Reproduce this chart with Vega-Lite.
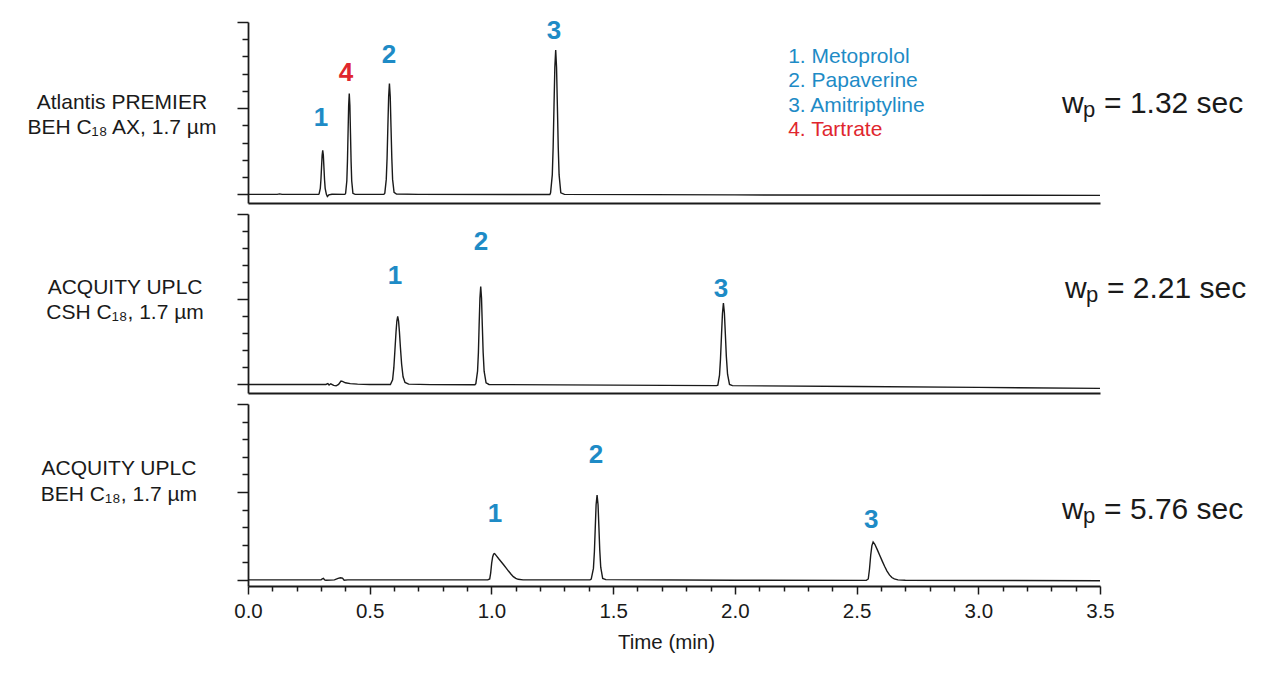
{
  "$schema": "https://vega.github.io/schema/vega-lite/v6.json",
  "background": "white",
  "padding": {"left": 26, "top": 18, "right": 0, "bottom": 0},
  "spacing": 11,
  "bounds": "flush",
  "config": {
    "font": "Liberation Sans",
    "view": {"stroke": null},
    "axis": {"domainColor": "#1a1a1a", "domainWidth": 1.8, "tickColor": "#1a1a1a", "tickWidth": 1.5, "grid": false}
  },
  "datasets": {
    "trace": [
      {"p":1,"t":0,"s":0},{"p":1,"t":0.12,"s":0},{"p":1,"t":0.13,"s":0.03},{"p":1,"t":0.14,"s":0},{"p":1,"t":0.29,"s":0},{"p":1,"t":0.292,"s":0.03},{"p":1,"t":0.297,"s":0.35},{"p":1,"t":0.2995,"s":0.83},{"p":1,"t":0.302,"s":1.55},{"p":1,"t":0.3045,"s":2.26},{"p":1,"t":0.307,"s":2.56},{"p":1,"t":0.3095,"s":2.26},{"p":1,"t":0.312,"s":1.55},{"p":1,"t":0.3145,"s":0.83},{"p":1,"t":0.317,"s":0.35},{"p":1,"t":0.322,"s":0.0},{"p":1,"t":0.326,"s":-0.12},{"p":1,"t":0.332,"s":-0.03},{"p":1,"t":0.345,"s":0.01},{"p":1,"t":0.398,"s":0},{"p":1,"t":0.401,"s":0.06},{"p":1,"t":0.406,"s":0.79},{"p":1,"t":0.4085,"s":1.9},{"p":1,"t":0.411,"s":3.55},{"p":1,"t":0.4135,"s":5.16},{"p":1,"t":0.416,"s":5.85},{"p":1,"t":0.4185,"s":5.16},{"p":1,"t":0.421,"s":3.55},{"p":1,"t":0.4235,"s":1.9},{"p":1,"t":0.426,"s":0.79},{"p":1,"t":0.431,"s":0.06},{"p":1,"t":0.44,"s":0},{"p":1,"t":0.558,"s":0},{"p":1,"t":0.562,"s":0.07},{"p":1,"t":0.568,"s":0.87},{"p":1,"t":0.5713,"s":2.1},{"p":1,"t":0.5745,"s":3.9},{"p":1,"t":0.5778,"s":5.67},{"p":1,"t":0.581,"s":6.43},{"p":1,"t":0.5843,"s":5.67},{"p":1,"t":0.5875,"s":3.9},{"p":1,"t":0.5908,"s":2.1},{"p":1,"t":0.594,"s":0.87},{"p":1,"t":0.6,"s":0.12},{"p":1,"t":0.61,"s":0.02},{"p":1,"t":0.7,"s":0},{"p":1,"t":1.24,"s":-0.01},{"p":1,"t":1.243,"s":0.09},{"p":1,"t":1.25,"s":1.13},{"p":1,"t":1.2535,"s":2.72},{"p":1,"t":1.257,"s":5.08},{"p":1,"t":1.2605,"s":7.38},{"p":1,"t":1.264,"s":8.37},{"p":1,"t":1.2675,"s":7.38},{"p":1,"t":1.271,"s":5.08},{"p":1,"t":1.2745,"s":2.72},{"p":1,"t":1.278,"s":1.13},{"p":1,"t":1.285,"s":0.09},{"p":1,"t":1.3,"s":0.0},{"p":1,"t":2.0,"s":-0.03},{"p":1,"t":3.5,"s":-0.06},
      {"p":2,"t":0,"s":0},{"p":2,"t":0.32,"s":0},{"p":2,"t":0.328,"s":0.05},{"p":2,"t":0.333,"s":-0.03},{"p":2,"t":0.34,"s":0.04},{"p":2,"t":0.352,"s":-0.05},{"p":2,"t":0.362,"s":-0.08},{"p":2,"t":0.372,"s":0.0},{"p":2,"t":0.382,"s":0.2},{"p":2,"t":0.388,"s":0.18},{"p":2,"t":0.4,"s":0.1},{"p":2,"t":0.42,"s":0.05},{"p":2,"t":0.45,"s":0.02},{"p":2,"t":0.5,"s":0},{"p":2,"t":0.585,"s":0},{"p":2,"t":0.594,"s":0.28},{"p":2,"t":0.599,"s":0.97},{"p":2,"t":0.6035,"s":1.99},{"p":2,"t":0.608,"s":3.06},{"p":2,"t":0.6115,"s":3.72},{"p":2,"t":0.615,"s":3.99},{"p":2,"t":0.6185,"s":3.72},{"p":2,"t":0.622,"s":3.1},{"p":2,"t":0.626,"s":2.2},{"p":2,"t":0.631,"s":1.2},{"p":2,"t":0.637,"s":0.45},{"p":2,"t":0.645,"s":0.12},{"p":2,"t":0.66,"s":0.02},{"p":2,"t":0.75,"s":-0.01},{"p":2,"t":0.932,"s":-0.02},{"p":2,"t":0.936,"s":0.05},{"p":2,"t":0.943,"s":0.78},{"p":2,"t":0.9465,"s":1.87},{"p":2,"t":0.9495,"s":3.49},{"p":2,"t":0.9528,"s":5.07},{"p":2,"t":0.956,"s":5.75},{"p":2,"t":0.9593,"s":5.07},{"p":2,"t":0.9625,"s":3.49},{"p":2,"t":0.966,"s":1.87},{"p":2,"t":0.97,"s":0.78},{"p":2,"t":0.978,"s":0.1},{"p":2,"t":0.99,"s":0.0},{"p":2,"t":1.5,"s":-0.04},{"p":2,"t":1.925,"s":-0.07},{"p":2,"t":1.93,"s":-0.04},{"p":2,"t":1.937,"s":0.55},{"p":2,"t":1.941,"s":1.5},{"p":2,"t":1.945,"s":2.85},{"p":2,"t":1.949,"s":4.15},{"p":2,"t":1.953,"s":4.77},{"p":2,"t":1.957,"s":4.2},{"p":2,"t":1.961,"s":2.95},{"p":2,"t":1.965,"s":1.65},{"p":2,"t":1.97,"s":0.6},{"p":2,"t":1.978,"s":0.0},{"p":2,"t":1.99,"s":-0.07},{"p":2,"t":2.5,"s":-0.12},{"p":2,"t":3.0,"s":-0.17},{"p":2,"t":3.5,"s":-0.23},
      {"p":3,"t":0,"s":0},{"p":3,"t":0.3,"s":0},{"p":3,"t":0.305,"s":0.05},{"p":3,"t":0.31,"s":0.08},{"p":3,"t":0.315,"s":0.0},{"p":3,"t":0.32,"s":-0.02},{"p":3,"t":0.355,"s":0.0},{"p":3,"t":0.37,"s":0.08},{"p":3,"t":0.38,"s":0.12},{"p":3,"t":0.388,"s":0.1},{"p":3,"t":0.395,"s":-0.02},{"p":3,"t":0.41,"s":0},{"p":3,"t":0.985,"s":0},{"p":3,"t":0.993,"s":0.05},{"p":3,"t":0.997,"s":0.4},{"p":3,"t":1.001,"s":0.95},{"p":3,"t":1.005,"s":1.3},{"p":3,"t":1.009,"s":1.47},{"p":3,"t":1.013,"s":1.49},{"p":3,"t":1.02,"s":1.38},{"p":3,"t":1.03,"s":1.2},{"p":3,"t":1.04,"s":1.03},{"p":3,"t":1.05,"s":0.86},{"p":3,"t":1.06,"s":0.68},{"p":3,"t":1.07,"s":0.5},{"p":3,"t":1.08,"s":0.33},{"p":3,"t":1.09,"s":0.18},{"p":3,"t":1.1,"s":0.08},{"p":3,"t":1.11,"s":0.03},{"p":3,"t":1.13,"s":0},{"p":3,"t":1.405,"s":0},{"p":3,"t":1.41,"s":0.04},{"p":3,"t":1.419,"s":0.65},{"p":3,"t":1.423,"s":1.6},{"p":3,"t":1.4265,"s":2.95},{"p":3,"t":1.43,"s":4.27},{"p":3,"t":1.434,"s":4.82},{"p":3,"t":1.438,"s":4.27},{"p":3,"t":1.4415,"s":3.0},{"p":3,"t":1.445,"s":1.7},{"p":3,"t":1.449,"s":0.72},{"p":3,"t":1.457,"s":0.08},{"p":3,"t":1.47,"s":0.01},{"p":3,"t":2.0,"s":-0.02},{"p":3,"t":2.54,"s":-0.03},{"p":3,"t":2.548,"s":0.05},{"p":3,"t":2.553,"s":0.6},{"p":3,"t":2.558,"s":1.4},{"p":3,"t":2.563,"s":1.95},{"p":3,"t":2.568,"s":2.15},{"p":3,"t":2.575,"s":2.02},{"p":3,"t":2.585,"s":1.72},{"p":3,"t":2.595,"s":1.4},{"p":3,"t":2.605,"s":1.08},{"p":3,"t":2.615,"s":0.77},{"p":3,"t":2.625,"s":0.5},{"p":3,"t":2.635,"s":0.28},{"p":3,"t":2.645,"s":0.13},{"p":3,"t":2.655,"s":0.05},{"p":3,"t":2.67,"s":0.0},{"p":3,"t":2.7,"s":-0.02},{"p":3,"t":3.5,"s":-0.05}
    ],
    "peaks": [
      {"p":1,"k":1,"t":0.30,"s":4.41},{"p":1,"k":4,"t":0.403,"s":7.02},{"p":1,"k":2,"t":0.579,"s":8.06},{"p":1,"k":3,"t":1.257,"s":9.45},
      {"p":2,"k":1,"t":0.604,"s":6.38},{"p":2,"k":2,"t":0.957,"s":8.36},{"p":2,"k":3,"t":1.943,"s":5.62},
      {"p":3,"k":1,"t":1.015,"s":3.77},{"p":3,"k":2,"t":1.43,"s":7.09},{"p":3,"k":3,"t":2.56,"s":3.43}
    ],
    "names": [
      {"p":1,"t":-0.518,"s":5.28,"txt":"Atlantis PREMIER"},{"p":1,"t":-0.518,"s":3.83,"txt":"BEH C₁₈ AX, 1.7 µm"},
      {"p":2,"t":-0.505,"s":5.68,"txt":"ACQUITY UPLC"},{"p":2,"t":-0.505,"s":4.22,"txt":"CSH C₁₈, 1.7 µm"},
      {"p":3,"t":-0.53,"s":6.29,"txt":"ACQUITY UPLC"},{"p":3,"t":-0.53,"s":4.8,"txt":"BEH C₁₈, 1.7 µm"}
    ],
    "wp": [
      {"p":1,"t":3.344,"s":4.70,"val":"= 1.32 sec"},
      {"p":2,"t":3.356,"s":5.09,"val":"= 2.21 sec"},
      {"p":3,"t":3.344,"s":3.46,"val":"= 5.76 sec"}
    ],
    "legend": [
      {"k":1,"t":2.219,"s":7.95,"txt":"1. Metoprolol"},
      {"k":2,"t":2.219,"s":6.56,"txt":"2. Papaverine"},
      {"k":3,"t":2.219,"s":5.10,"txt":"3. Amitriptyline"},
      {"k":4,"t":2.219,"s":3.71,"txt":"4. Tartrate"}
    ]
  },
  "vconcat": [
    {
      "width": 852, "height": 181,
      "encoding": {
        "x": {"field":"t","type":"quantitative","scale":{"domain":[0,3.5],"nice":false,"zero":false},"axis":{"ticks":false,"labels":false,"title":null}},
        "y": {"field":"s","type":"quantitative","scale":{"domain":[-0.5,10],"nice":false,"zero":false},"axis":{"values":[0,1,2,3,4,5,6,7,8,9,10],"labels":false,"title":null,"tickSize":{"condition":{"test":"datum.value % 5 === 0","value":11},"value":6}}}
      },
      "layer": [
        {"data":{"name":"trace"},"transform":[{"filter":"datum.p === 1"}],"mark":{"type":"line","color":"#1a1a1a","strokeWidth":1.4}},
        {"data":{"name":"peaks"},"transform":[{"filter":"datum.p === 1"}],"mark":{"type":"text","fontSize":26,"fontWeight":"bold","baseline":"middle","align":"center"},"encoding":{"text":{"field":"k","type":"nominal"},"color":{"condition":{"test":"datum.k === 4","value":"#E0262E"},"value":"#1E8BC6"}}},
        {"data":{"name":"legend"},"mark":{"type":"text","fontSize":21,"baseline":"middle","align":"left"},"encoding":{"text":{"field":"txt","type":"nominal"},"color":{"condition":{"test":"datum.k === 4","value":"#E0262E"},"value":"#1E8BC6"}}},
        {"data":{"name":"names"},"transform":[{"filter":"datum.p === 1"}],"mark":{"type":"text","fontSize":21,"baseline":"middle","align":"center","color":"#1a1a1a"},"encoding":{"text":{"field":"txt","type":"nominal"}}},
        {"data":{"name":"wp"},"transform":[{"filter":"datum.p === 1"}],"mark":{"type":"text","fontSize":30,"baseline":"alphabetic","align":"left","color":"#1a1a1a"},"encoding":{"text":{"value":"w"}}},
        {"data":{"name":"wp"},"transform":[{"filter":"datum.p === 1"}],"mark":{"type":"text","fontSize":22,"baseline":"alphabetic","align":"left","color":"#1a1a1a","dx":21,"dy":4},"encoding":{"text":{"value":"p"}}},
        {"data":{"name":"wp"},"transform":[{"filter":"datum.p === 1"}],"mark":{"type":"text","fontSize":30,"baseline":"alphabetic","align":"left","color":"#1a1a1a","dx":42},"encoding":{"text":{"field":"val","type":"nominal"}}}
      ]
    },
    {
      "width": 852, "height": 179,
      "encoding": {
        "x": {"field":"t","type":"quantitative","scale":{"domain":[0,3.5],"nice":false,"zero":false},"axis":{"ticks":false,"labels":false,"title":null}},
        "y": {"field":"s","type":"quantitative","scale":{"domain":[-0.5,10],"nice":false,"zero":false},"axis":{"values":[0,1,2,3,4,5,6,7,8,9,10],"labels":false,"title":null,"tickSize":{"condition":{"test":"datum.value % 5 === 0","value":11},"value":6}}}
      },
      "layer": [
        {"data":{"name":"trace"},"transform":[{"filter":"datum.p === 2"}],"mark":{"type":"line","color":"#1a1a1a","strokeWidth":1.4}},
        {"data":{"name":"peaks"},"transform":[{"filter":"datum.p === 2"}],"mark":{"type":"text","fontSize":26,"fontWeight":"bold","baseline":"middle","align":"center"},"encoding":{"text":{"field":"k","type":"nominal"},"color":{"condition":{"test":"datum.k === 4","value":"#E0262E"},"value":"#1E8BC6"}}},
        {"data":{"name":"names"},"transform":[{"filter":"datum.p === 2"}],"mark":{"type":"text","fontSize":21,"baseline":"middle","align":"center","color":"#1a1a1a"},"encoding":{"text":{"field":"txt","type":"nominal"}}},
        {"data":{"name":"wp"},"transform":[{"filter":"datum.p === 2"}],"mark":{"type":"text","fontSize":30,"baseline":"alphabetic","align":"left","color":"#1a1a1a"},"encoding":{"text":{"value":"w"}}},
        {"data":{"name":"wp"},"transform":[{"filter":"datum.p === 2"}],"mark":{"type":"text","fontSize":22,"baseline":"alphabetic","align":"left","color":"#1a1a1a","dx":21,"dy":4},"encoding":{"text":{"value":"p"}}},
        {"data":{"name":"wp"},"transform":[{"filter":"datum.p === 2"}],"mark":{"type":"text","fontSize":30,"baseline":"alphabetic","align":"left","color":"#1a1a1a","dx":42},"encoding":{"text":{"field":"val","type":"nominal"}}}
      ]
    },
    {
      "width": 852, "height": 182,
      "encoding": {
        "x": {"field":"t","type":"quantitative","scale":{"domain":[0,3.5],"nice":false,"zero":false},"axis":{"values":[0,0.1,0.2,0.3,0.4,0.5,0.6,0.7,0.8,0.9,1,1.1,1.2,1.3,1.4,1.5,1.6,1.7,1.8,1.9,2,2.1,2.2,2.3,2.4,2.5,2.6,2.7,2.8,2.9,3,3.1,3.2,3.3,3.4,3.5],"labelExpr":"abs(datum.value*2-round(datum.value*2))<0.001 ? format(datum.value,'.1f') : ''","labelOverlap":false,"labelFlush":false,"labelFontSize":20.5,"labelColor":"#1a1a1a","labelPadding":7,"tickSize":{"condition":{"test":"abs(datum.value*2-round(datum.value*2))<0.001","value":8},"value":5},"title":"Time (min)","titleFontSize":20.5,"titleFontWeight":"normal","titleColor":"#1a1a1a","titlePadding":11,"titleX":418}},
        "y": {"field":"s","type":"quantitative","scale":{"domain":[-0.35,10],"nice":false,"zero":false},"axis":{"values":[0,1,2,3,4,5,6,7,8,9,10],"labels":false,"title":null,"tickSize":{"condition":{"test":"datum.value % 5 === 0","value":11},"value":6}}}
      },
      "layer": [
        {"data":{"name":"trace"},"transform":[{"filter":"datum.p === 3"}],"mark":{"type":"line","color":"#1a1a1a","strokeWidth":1.4}},
        {"data":{"name":"peaks"},"transform":[{"filter":"datum.p === 3"}],"mark":{"type":"text","fontSize":26,"fontWeight":"bold","baseline":"middle","align":"center"},"encoding":{"text":{"field":"k","type":"nominal"},"color":{"condition":{"test":"datum.k === 4","value":"#E0262E"},"value":"#1E8BC6"}}},
        {"data":{"name":"names"},"transform":[{"filter":"datum.p === 3"}],"mark":{"type":"text","fontSize":21,"baseline":"middle","align":"center","color":"#1a1a1a"},"encoding":{"text":{"field":"txt","type":"nominal"}}},
        {"data":{"name":"wp"},"transform":[{"filter":"datum.p === 3"}],"mark":{"type":"text","fontSize":30,"baseline":"alphabetic","align":"left","color":"#1a1a1a"},"encoding":{"text":{"value":"w"}}},
        {"data":{"name":"wp"},"transform":[{"filter":"datum.p === 3"}],"mark":{"type":"text","fontSize":22,"baseline":"alphabetic","align":"left","color":"#1a1a1a","dx":21,"dy":4},"encoding":{"text":{"value":"p"}}},
        {"data":{"name":"wp"},"transform":[{"filter":"datum.p === 3"}],"mark":{"type":"text","fontSize":30,"baseline":"alphabetic","align":"left","color":"#1a1a1a","dx":42},"encoding":{"text":{"field":"val","type":"nominal"}}}
      ]
    }
  ]
}
